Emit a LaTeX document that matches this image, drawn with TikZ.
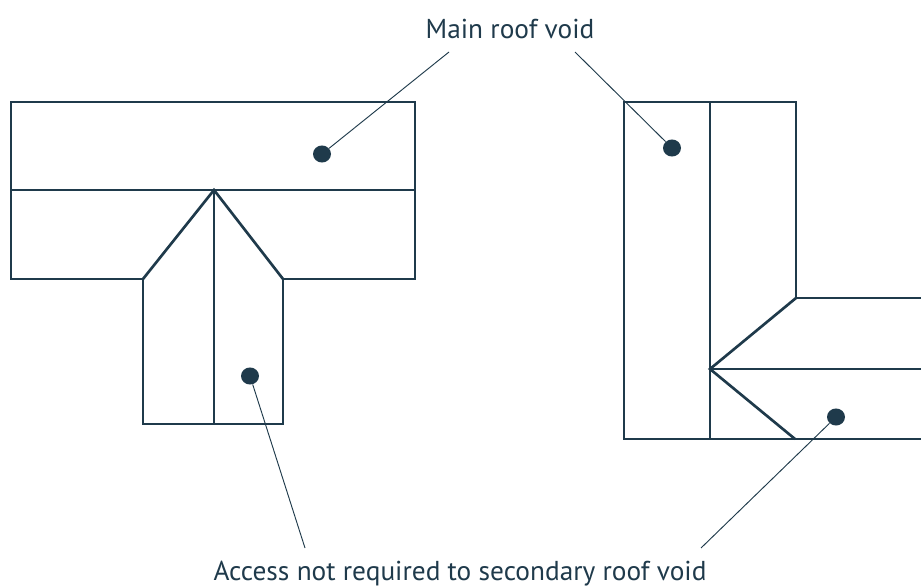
\documentclass[tikz,border=0pt]{standalone}
\usepackage{fontspec}
\setmainfont{PT Sans}
\definecolor{ink}{HTML}{1F3A4B}
\usetikzlibrary{shapes.geometric}
\tikzset{
 wall/.style={draw=ink,line width=2pt,line join=miter},
 leader/.style={draw=ink,line width=0.7pt},
 dot/.style={ellipse,fill=ink,minimum width=13.5pt,minimum height=12.8pt,inner sep=0pt},
 lab/.style={text=ink,font=\fontsize{20.5}{24}\selectfont,inner sep=0pt}
}
\begin{document}
\begin{tikzpicture}[x=0.75pt,y=-0.75pt]
\useasboundingbox (0,0) rectangle (921,588);
\draw[wall] (143,279) -- (11,279) -- (11,102) -- (415,102) -- (415,279) -- (283,279);
\draw[wall] (11,190) -- (415,190);
\draw[wall] (143,279) -- (143,424) -- (283,424) -- (283,279);
\draw[wall] (143,279) -- (214,190) -- (283,279);
\draw[wall] (214,190) -- (214,424);
\draw[wall] (921,298) -- (796,298) -- (796,102) -- (624,102) -- (624,439) -- (921,439);
\draw[wall] (710,102) -- (710,439);
\draw[wall] (796,298) -- (710,369) -- (795,439);
\draw[wall] (710,369) -- (921,369);
\node[lab] (main) at (510,29) {Main roof void};
\node[lab] (acc) at (460,574) {Access not required to secondary roof void};
\node[dot] (d1) at (322,154) {};
\node[dot] (d2) at (672,148) {};
\node[dot] (d3) at (250,376) {};
\node[dot] (d4) at (836,417) {};
\coordinate (m1) at (449,52);
\coordinate (m2) at (575,52);
\coordinate (a1) at (305,548);
\coordinate (a2) at (701,548);
\draw[leader] (m1) -- (d1);
\draw[leader] (m2) -- (d2);
\draw[leader] (a1) -- (d3);
\draw[leader] (a2) -- (d4);
\end{tikzpicture}
\end{document}
